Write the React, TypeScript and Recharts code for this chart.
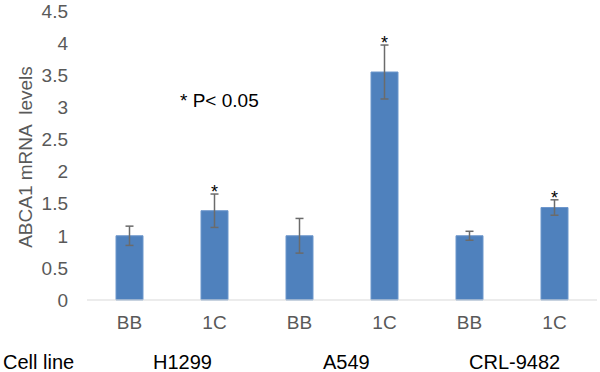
import React from 'react';
import { BarChart, Bar, XAxis, YAxis, ErrorBar, LabelList } from 'recharts';

const categories = ['BB', '1C', 'BB', '1C', 'BB', '1C'];
const levels = [1.0, 1.39, 1.0, 3.55, 1.0, 1.44];
const errors = [0.15, 0.26, 0.27, 0.42, 0.07, 0.12];
const significant = [false, true, false, true, false, true];
const cellLines = ['H1299', 'A549', 'CRL-9482'];
const yTicks = [0, 0.5, 1, 1.5, 2, 2.5, 3, 3.5, 4, 4.5];

const data = categories.map((c, i) => ({
  name: c,
  value: levels[i],
  err: errors[i],
  star: significant[i] ? '*' : '',
}));

const FONT = '"Liberation Sans", Arial, sans-serif';
const TOP = 11;
const BOTTOM = 300;
const PX_PER_UNIT = (BOTTOM - TOP) / 4.5;

// star sits just above the error bar cap
const renderStar = (props: any) => {
  const { x, width, value, index } = props;
  if (!value) return null;
  const d = data[index];
  const yCap = BOTTOM - (d.value + d.err) * PX_PER_UNIT;
  return (
    <text x={x + width / 2} y={yCap + 4} textAnchor="middle" fontSize={18} fontFamily={FONT} fill="#000">
      {value}
    </text>
  );
};

const renderYLabel = () => (
  <text
    x={25}
    y={157}
    transform="rotate(-90, 25, 157)"
    textAnchor="middle"
    dominantBaseline="central"
    fontSize={19}
    fontFamily={FONT}
    fill="#595959"
    style={{ whiteSpace: 'pre' }}
  >
    ABCA1 mRNA  levels
  </text>
);

export default function App() {
  return (
    <div style={{ position: 'absolute', left: 0, top: 0, width: 600, height: 372, background: '#fff' }}>
      <BarChart
        width={600}
        height={372}
        data={data}
        margin={{ top: TOP, right: 3, bottom: 42, left: 0 }}
        barSize={27}
      >
        <XAxis
          dataKey="name"
          axisLine={{ stroke: '#d9d9d9' }}
          tickLine={false}
          tickSize={0}
          tickMargin={16}
          height={30}
          tick={{ fill: '#595959', fontSize: 19, fontFamily: FONT }}
          interval={0}
        />
        <YAxis
          domain={[0, 4.5]}
          ticks={yTicks}
          axisLine={false}
          tickLine={false}
          tickSize={0}
          tickMargin={19}
          width={87}
          tick={{ fill: '#595959', fontSize: 19, fontFamily: FONT }}
          label={{ content: renderYLabel }}
        />
        <Bar dataKey="value" fill="#4f81bd" stroke="#6d97cc" strokeWidth={1} isAnimationActive={false}>
          <ErrorBar dataKey="err" width={4} stroke="#6b6b6b" strokeWidth={1.5} direction="y" />
          <LabelList dataKey="star" content={renderStar} />
        </Bar>
      </BarChart>
      <svg width={600} height={372} style={{ position: 'absolute', left: 0, top: 0, pointerEvents: 'none' }}>
        <g fontFamily={FONT} fill="#000">
          <text x={180} y={107} fontSize={19} style={{ whiteSpace: 'pre' }}>* P&lt; 0.05</text>
          <text x={3} y={369} fontSize={20}>Cell line</text>
          <text x={153} y={369} fontSize={20}>{cellLines[0]}</text>
          <text x={323} y={369} fontSize={20}>{cellLines[1]}</text>
          <text x={469} y={369} fontSize={20}>{cellLines[2]}</text>
        </g>
      </svg>
    </div>
  );
}
